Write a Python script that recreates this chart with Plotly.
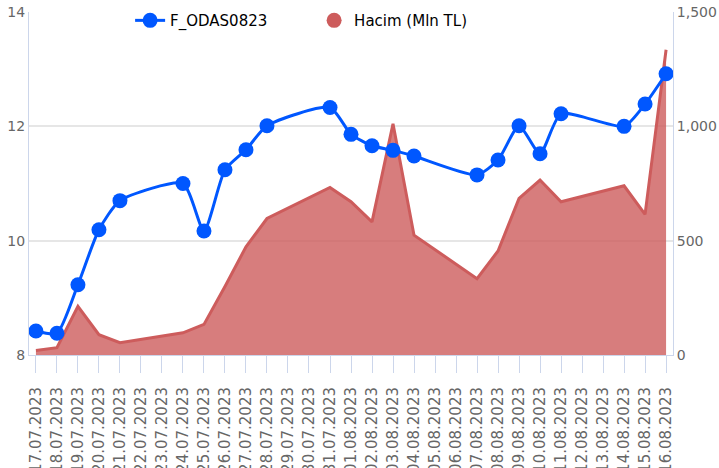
import plotly.graph_objects as go

dates = ["17.07.2023", "18.07.2023", "19.07.2023", "20.07.2023", "21.07.2023", "22.07.2023",
         "23.07.2023", "24.07.2023", "25.07.2023", "26.07.2023", "27.07.2023", "28.07.2023",
         "29.07.2023", "30.07.2023", "31.07.2023", "01.08.2023", "02.08.2023", "03.08.2023",
         "04.08.2023", "05.08.2023", "06.08.2023", "07.08.2023", "08.08.2023", "09.08.2023",
         "10.08.2023", "11.08.2023", "12.08.2023", "13.08.2023", "14.08.2023", "15.08.2023",
         "16.08.2023"]

price = [8.42, 8.38, 9.23, 10.19, 10.70, None, None, 11.00, 10.17, 11.24, 11.59, 12.01,
         None, None, 12.33, 11.86, 11.66, 11.58, 11.48, None, None, 11.15, 11.41, 12.01,
         11.52, 12.22, None, None, 12.00, 12.39, 12.92]

volume = [20, 32, 213, 89, 54, None, None, 97, 134, 300, 473, 597, None, None, 733, 670,
          582, 1011, 524, None, None, 334, 455, 685, 765, 670, None, None, 740, 615, 1335]

price_name = "F_ODAS0823"
volume_name = "Hacim (Mln TL)"

blue = "#0057ff"
red = "#cd5c5c"
axis_blue = "#ccd6eb"
grid = "#e6e6e6"
tick_font = dict(family="DejaVu Sans", size=14, color="#666666")

fig = go.Figure()

fig.add_trace(go.Scatter(
    x=dates, y=volume, name=volume_name, mode="lines",
    line=dict(color=red, width=3), fill="tozeroy",
    fillcolor="rgba(205,92,92,0.8)", connectgaps=True, showlegend=False,
    yaxis="y"))

fig.add_trace(go.Scatter(
    x=dates, y=price, name=price_name, mode="lines+markers",
    line=dict(color=blue, width=3, shape="spline", smoothing=0.6),
    marker=dict(color=blue, size=15), connectgaps=True, yaxis="y2"))

fig.add_trace(go.Scatter(
    x=[None], y=[None], name=volume_name, mode="markers",
    marker=dict(color=red, size=15), yaxis="y"))

fig.update_layout(
    width=719, height=468,
    margin=dict(l=29, r=46, t=12, b=113, autoexpand=False),
    plot_bgcolor="white", paper_bgcolor="white",
    font=dict(family="DejaVu Sans", size=14, color="#333333"),
    xaxis=dict(type="category", range=[-0.33, 30.33], tickangle=-90, automargin=False,
               tickfont=dict(family="DejaVu Sans", size=15, color="#666666"),
               showgrid=False, showline=True, linecolor=axis_blue,
               ticks="outside", ticklen=17, tickcolor=axis_blue, ticklabelstandoff=8,
               ticklabeloverflow="allow"),
    yaxis=dict(side="right", range=[0, 1500], tickvals=[0, 500, 1000, 1500], automargin=False,
               tickformat=",", tickfont=tick_font, showgrid=True, gridcolor=grid,
               gridwidth=2, zeroline=False, showline=True, linecolor=axis_blue,
               ticklabeloverflow="allow"),
    yaxis2=dict(side="left", overlaying="y", range=[8, 14], tickvals=[8, 10, 12, 14],
                automargin=False, ticklabeloverflow="allow",
                tickfont=tick_font, showgrid=False, zeroline=False,
                showline=True, linecolor=axis_blue),
    legend=dict(orientation="h", x=0.157, xanchor="left", y=1.023, yanchor="top",
                bgcolor="rgba(0,0,0,0)", font=dict(family="DejaVu Sans", size=15, color="#000000"),
                entrywidth=139, entrywidthmode="pixels"),
    showlegend=True,
)

fig.write_html("out.html", post_script="document.body.style.margin='0px';",
               config={"displayModeBar": False})
